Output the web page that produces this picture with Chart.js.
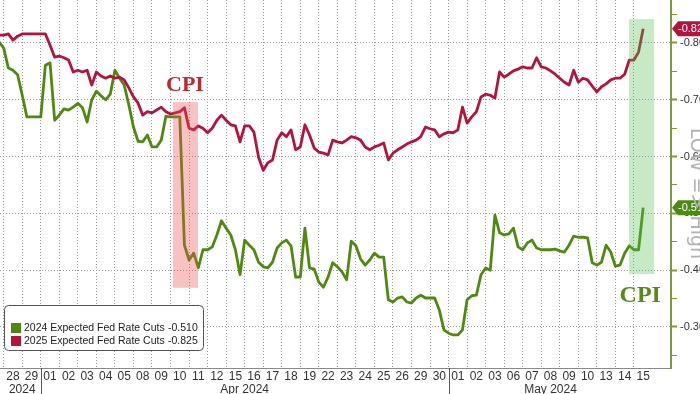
<!DOCTYPE html>
<html>
<head>
<meta charset="utf-8">
<script src="https://cdn.jsdelivr.net/npm/chart.js@4.4.1/dist/chart.umd.min.js"></script>
<style>
  html, body { margin: 0; padding: 0; background: #fff; overflow: hidden; }
  #wrap { width: 700px; height: 394px; overflow: hidden; position: relative; }
  canvas { display: block; }
</style>
</head>
<body>
<div id="wrap"><canvas id="fedChart" width="740" height="394"></canvas></div>
<script>
// trading days shown on the x axis
const dayLabels = ['28','29','01','02','03','04','05','08','09','10','11','12','15','16','17','18','19',
  '22','23','24','25','26','29','30','01','02','03','06','07','08','09','10','13','14','15'];
const monthLabels = ['2024', 'Apr 2024', 'May 2024'];
const monthFirstDay = [0, 2, 24];   // index in dayLabels where each month starts

// right axis ticks (minor ticks have no label)
const yTickValues = [-0.85, -0.80, -0.75, -0.70, -0.65, -0.60, -0.55, -0.50, -0.45, -0.40, -0.35, -0.30, -0.25];
const yTickLabels = ['', '-0.80', '', '-0.70', '', '-0.60', '', '-0.50', '', '-0.40', '', '-0.30', ''];

// readings every quarter of a trading day, first one just before the 28th
const sampleStart = -0.75;
const sampleStep = 0.25;

const cuts2024 = [
  -0.802,-0.791,-0.756,-0.752,-0.744,-0.708,-0.670,-0.670,-0.670,-0.670,
  -0.761,-0.765,-0.664,-0.673,-0.684,-0.682,-0.687,-0.694,-0.686,-0.661,
  -0.700,-0.715,-0.707,-0.700,-0.710,-0.752,-0.738,-0.726,-0.691,-0.652,
  -0.627,-0.626,-0.638,-0.617,-0.617,-0.629,-0.671,-0.670,-0.670,-0.670,
  -0.444,-0.418,-0.430,-0.404,-0.436,-0.436,-0.441,-0.462,-0.487,-0.474,
  -0.462,-0.436,-0.392,-0.453,-0.444,-0.436,-0.414,-0.406,-0.404,-0.414,
  -0.439,-0.448,-0.453,-0.443,-0.388,-0.388,-0.474,-0.404,-0.402,-0.379,
  -0.370,-0.388,-0.413,-0.406,-0.397,-0.383,-0.451,-0.443,-0.420,-0.409,
  -0.418,-0.430,-0.423,-0.423,-0.348,-0.344,-0.351,-0.353,-0.344,-0.342,
  -0.351,-0.356,-0.351,-0.351,-0.351,-0.330,-0.295,-0.289,-0.286,-0.286,
  -0.295,-0.348,-0.355,-0.356,-0.392,-0.404,-0.400,-0.497,-0.466,-0.462,
  -0.464,-0.474,-0.441,-0.436,-0.448,-0.453,-0.439,-0.436,-0.436,-0.436,
  -0.437,-0.434,-0.432,-0.444,-0.460,-0.458,-0.458,-0.457,-0.413,-0.409,
  -0.414,-0.444,-0.432,-0.407,-0.409,-0.430,-0.443,-0.436,-0.436,-0.510
];

const cuts2025 = [
  -0.814,-0.814,-0.816,-0.805,-0.812,-0.816,-0.816,-0.816,-0.816,-0.816,
  -0.816,-0.796,-0.775,-0.777,-0.774,-0.770,-0.749,-0.752,-0.749,-0.752,
  -0.726,-0.749,-0.742,-0.738,-0.742,-0.738,-0.740,-0.735,-0.721,-0.705,
  -0.694,-0.673,-0.679,-0.677,-0.682,-0.687,-0.679,-0.675,-0.677,-0.679,
  -0.686,-0.650,-0.647,-0.654,-0.650,-0.642,-0.650,-0.664,-0.673,-0.664,
  -0.656,-0.654,-0.626,-0.654,-0.654,-0.643,-0.599,-0.576,-0.589,-0.594,
  -0.629,-0.642,-0.635,-0.647,-0.612,-0.617,-0.656,-0.638,-0.615,-0.608,
  -0.606,-0.603,-0.629,-0.626,-0.624,-0.629,-0.635,-0.633,-0.629,-0.617,
  -0.612,-0.617,-0.620,-0.624,-0.594,-0.606,-0.612,-0.617,-0.622,-0.626,
  -0.629,-0.635,-0.652,-0.649,-0.647,-0.635,-0.640,-0.643,-0.642,-0.647,
  -0.687,-0.659,-0.670,-0.679,-0.705,-0.710,-0.708,-0.703,-0.749,-0.740,
  -0.745,-0.751,-0.754,-0.758,-0.756,-0.756,-0.774,-0.758,-0.756,-0.751,
  -0.745,-0.738,-0.731,-0.726,-0.752,-0.731,-0.738,-0.735,-0.724,-0.714,
  -0.723,-0.728,-0.735,-0.738,-0.738,-0.745,-0.770,-0.770,-0.784,-0.825
];

const GREEN = '#4f8a10';
const RED = '#b4143c';

// CPI release highlights
const cpiMarks = [
  { from: 8.63, to: 9.98, top: -0.696, bottom: -0.369, fill: 'rgba(235, 80, 80, 0.35)',
    textX: 9.28, textY: -0.726, size: 22, color: '#c0262d' },
  { from: 33.24, to: 34.59, top: -0.842, bottom: -0.393, fill: 'rgba(80, 190, 80, 0.33)',
    textX: 33.84, textY: -0.355, size: 24, color: '#5a8a1c' }
];

const toPoints = vals => vals.map((v, i) => ({ x: sampleStart + i * sampleStep, y: v }));

const series = [
  { label: '2024 Expected Fed Rate Cuts', values: cuts2024, color: GREEN },
  { label: '2025 Expected Fed Rate Cuts', values: cuts2025, color: RED }
];

const extras = {
  id: 'extras',
  afterDatasetsDraw(chart) {
    const { ctx, scales: { x, y } } = chart;
    ctx.save();
    cpiMarks.forEach(m => {
      const x1 = x.getPixelForValue(m.from), x2 = x.getPixelForValue(m.to);
      const y1 = y.getPixelForValue(m.top), y2 = y.getPixelForValue(m.bottom);
      ctx.fillStyle = m.fill;
      ctx.fillRect(x1, Math.min(y1, y2), x2 - x1, Math.abs(y2 - y1));
      ctx.font = 'bold ' + m.size + 'px "Liberation Serif", "DejaVu Serif", serif';
      ctx.fillStyle = m.color;
      ctx.textAlign = 'center';
      ctx.textBaseline = 'middle';
      ctx.fillText('CPI', x.getPixelForValue(m.textX), y.getPixelForValue(m.textY));
    });
    ctx.restore();
  },
  afterDraw(chart) {
    const { ctx, chartArea: area, scales: { x, y } } = chart;
    ctx.save();

    // month separators under the axis
    ctx.strokeStyle = '#555';
    ctx.lineWidth = 1;
    monthFirstDay.slice(1).forEach(d => {
      const px = Math.round(x.getPixelForValue(d - 0.5)) + 0.5;
      ctx.beginPath();
      ctx.moveTo(px, area.bottom);
      ctx.lineTo(px, chart.height);
      ctx.stroke();
    });

    // legend box, bottom left
    const lx = area.left + 4, ly = area.bottom - 63;
    ctx.beginPath();
    ctx.roundRect(lx + 0.5, ly + 0.5, 199, 45, 4);
    ctx.fillStyle = '#fff';
    ctx.fill();
    ctx.strokeStyle = '#555';
    ctx.stroke();
    ctx.font = '10.5px "Liberation Sans", Arial, sans-serif';
    ctx.textBaseline = 'middle';
    ctx.textAlign = 'left';
    series.forEach((s, i) => {
      const cy = ly + 23 + i * 13;
      ctx.fillStyle = s.color;
      ctx.fillRect(lx + 7, cy - 5, 10, 10);
      ctx.fillStyle = '#222';
      ctx.fillText(s.label, lx + 20, cy);
      ctx.fillText(s.values[s.values.length - 1].toFixed(3), lx + 164, cy);
    });

    // last value tags on the right axis
    ctx.font = '11px "Liberation Sans", Arial, sans-serif';
    series.forEach(s => {
      const v = s.values[s.values.length - 1];
      const px = area.right + 1, py = y.getPixelForValue(v);
      ctx.beginPath();
      ctx.moveTo(px, py);
      ctx.lineTo(px + 6, py - 7.5);
      ctx.lineTo(px + 52, py - 7.5);
      ctx.lineTo(px + 52, py + 7.5);
      ctx.lineTo(px + 6, py + 7.5);
      ctx.closePath();
      ctx.fillStyle = s.color;
      ctx.fill();
      ctx.fillStyle = '#fff';
      ctx.fillText(v.toFixed(3), px + 6, py + 0.5);
    });

    // rotated axis caption
    ctx.translate(area.right + 25, y.getPixelForValue(-0.535));
    ctx.rotate(Math.PI / 2);
    ctx.font = '19px "DejaVu Sans", sans-serif';
    ctx.fillStyle = '#b3b3b3';
    ctx.textAlign = 'center';
    ctx.fillText('LOW => High', 0, 0);
    ctx.restore();
  }
};

Chart.defaults.font.family = '"Liberation Sans", Arial, sans-serif';

new Chart(document.getElementById('fedChart').getContext('2d'), {
  type: 'line',
  data: {
    datasets: series.map((s, i) => ({
      label: s.label,
      data: toPoints(s.values),
      borderColor: s.color,
      backgroundColor: s.color,
      borderWidth: 2.8,
      pointRadius: 0,
      tension: 0,
      borderJoinStyle: 'round',
      order: i === 0 ? 1 : 0
    }))
  },
  options: {
    responsive: false,
    animation: false,
    layout: { padding: 0 },
    plugins: { legend: { display: false }, tooltip: { enabled: false } },
    scales: {
      x: {
        type: 'linear', position: 'bottom', min: -0.7, max: 35.5, weight: 0,
        afterBuildTicks: s => { s.ticks = dayLabels.map((_, i) => ({ value: i })); },
        afterFit: s => { s.height = 13; s.paddingLeft = 0; s.paddingRight = 0; },
        ticks: {
          autoSkip: false, maxRotation: 0, padding: 1, color: '#333',
          font: { size: 12 },
          callback: (v, i) => dayLabels[i]
        },
        grid: {
          offset: true, drawTicks: false,
          color: c => c.index < dayLabels.length ? '#9a9a9a' : 'transparent'
        },
        border: { display: true, color: '#8a8a8a', dash: [1, 2] }
      },
      xm: {
        type: 'linear', position: 'bottom', min: -0.7, max: 35.5, weight: 1,
        afterBuildTicks: s => {
          s.ticks = monthFirstDay.map((d, k) => {
            const last = k + 1 < monthFirstDay.length ? monthFirstDay[k + 1] - 1 : dayLabels.length - 1;
            return { value: (d + last) / 2 };
          });
        },
        afterFit: s => { s.height = 13; s.paddingLeft = 0; s.paddingRight = 0; },
        ticks: {
          autoSkip: false, maxRotation: 0, padding: 1, color: '#333',
          font: { size: 12 },
          callback: (v, i) => monthLabels[i]
        },
        grid: { display: false, drawTicks: false },
        border: { display: false }
      },
      y: {
        type: 'linear', position: 'right', reverse: true, min: -0.8757, max: -0.2278,
        afterBuildTicks: s => { s.ticks = yTickValues.map(v => ({ value: v })); },
        afterFit: s => { s.width = 69; s.paddingTop = 0; s.paddingBottom = 0; },
        ticks: {
          autoSkip: false, padding: 3, color: '#333',
          font: { size: 11 },
          callback: (v, i) => yTickLabels[i]
        },
        grid: {
          tickLength: 6,
          color: c => (c.tick && yTickLabels[c.index]) ? '#9a9a9a' : 'transparent',
          tickColor: '#7d9a3c',
          tickWidth: c => (c.tick && yTickLabels[c.index]) ? 2 : 1
        },
        border: { display: true, color: '#7d9a3c', width: 2, dash: [1, 2] }
      }
    }
  },
  plugins: [extras]
});
</script>
</body>
</html>
